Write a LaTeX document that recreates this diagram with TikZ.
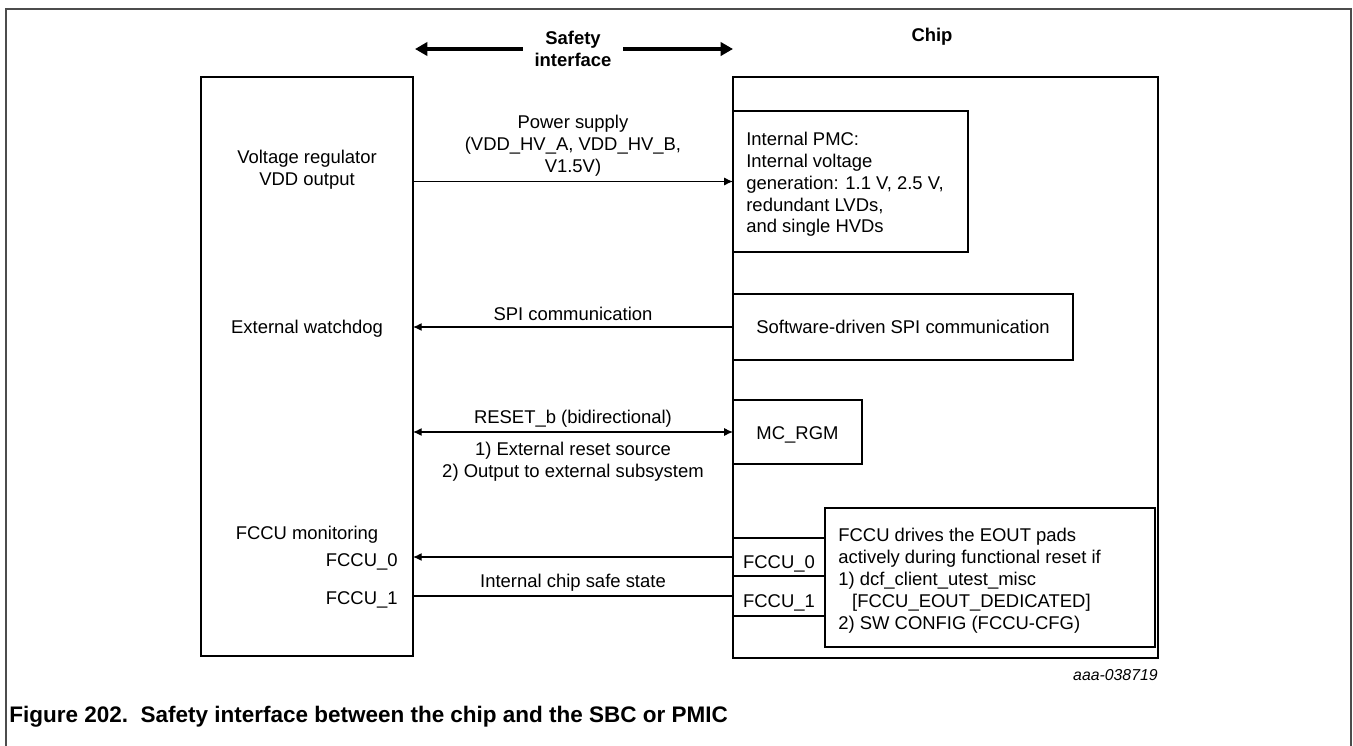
\documentclass[tikz,border=0pt]{standalone}
\usepackage{fontspec}
\setmainfont{Liberation Sans}
\usetikzlibrary{arrows.meta}

\begin{document}
\begin{tikzpicture}[x=0.02cm,y=-0.02cm,
        font=\fontsize{10.5}{12.5}\selectfont,
        box/.style={draw,line width=1.1pt,outer sep=0pt,inner sep=0pt,anchor=north west},
        pin/.style={box,text height=13pt,text depth=0pt},
        hdr/.style={font=\bfseries\fontsize{10.5}{12.5}\selectfont,align=center},
        sig/.style={line width=0.6pt,-{Latex[length=5pt,width=4.5pt]}},
        sigboth/.style={line width=0.6pt,{Latex[length=5pt,width=4.5pt]}-{Latex[length=5pt,width=4.5pt]}},
        wide/.style={line width=2.2pt,-{Triangle[length=7pt,width=7.5pt]}}]

        \useasboundingbox (0,0) rectangle (1353,745);

        %Frame
        \draw[black!70,line width=1.2pt] (6,760) -- (6,9) -- (1351,9) -- (1351,760);

        %Boxes
        %SBC / PMIC side
        \node[box,minimum width=4.24cm,minimum height=11.58cm] (sbc) at (201,77) {};
        %chip side
        \node[box,minimum width=8.5cm,minimum height=11.62cm] (chip) at (733,77) {};

        %Blocks inside the chip
        \node[box,minimum width=4.7cm,minimum height=2.82cm] (pmc) at (733,111) {};
        \node[box,minimum width=6.8cm,minimum height=1.32cm] (spi) at (733,294) {Software-driven SPI communication};
        \node[box,minimum width=2.58cm,minimum height=1.28cm,text height=9pt,text depth=0pt] (rgm) at (733,400) {MC\_RGM};
        \node[pin,minimum width=1.84cm,minimum height=0.76cm] (fccu0) at (733,538) {FCCU\_0};
        \node[pin,minimum width=1.84cm,minimum height=0.8cm] (fccu1) at (fccu0.south west) {FCCU\_1};
        \node[box,minimum width=6.6cm,minimum height=2.78cm] (eout) at (825,508) {};

        %block texts
        \node[anchor=west,align=left,inner sep=0pt] (pmctext) at ([xshift=0.26cm,yshift=-1.6pt]pmc.west)
            {Internal PMC:\\Internal voltage\\generation: 1.1 V, 2.5 V,\\redundant LVDs,\\and single HVDs};
        \node[anchor=west,align=left,inner sep=0pt] (eouttext) at ([xshift=0.26cm,yshift=-1.6pt]eout.west)
            {FCCU drives the EOUT pads\\actively during functional reset if\\1) dcf\_client\_utest\_misc\\\hspace*{0.75em}[FCCU\_EOUT\_DEDICATED]\\2) SW CONFIG (FCCU-CFG)};

        %Texts in the SBC box
        \node[align=center] (vreg) at (307,170) {Voltage regulator\\VDD output};
        \node (wdog) at (307,329) {External watchdog};
        \node (fmon) at (307,535) {FCCU monitoring};
        \node[anchor=east,inner sep=0pt] (out0) at (398,562) {FCCU\_0};
        \node[anchor=east,inner sep=0pt] (out1) at (398,600) {FCCU\_1};

        %Headers
        \node[hdr,inner xsep=6.5pt] (safety) at (573,49) {Safety\\interface};
        \node[hdr] (chiplbl) at (932,37) {Chip};
        \coordinate (safeL) at (415,49);
        \coordinate (safeR) at (733,49);
        \draw[wide] (safety) -- (safeL);
        \draw[wide] (safety) -- (safeR);

        %Edges
        \draw[sig] (sbc.east |- pmc.west) -- (pmc.west)
            node[midway,above=-0.5pt,align=center] {Power supply\\(VDD\_HV\_A, VDD\_HV\_B,\\V1.5V)};
        \draw[sig] (spi.west) -- (sbc.east |- spi.west)
            node[midway,above=0pt] {SPI communication};
        \draw[sigboth] (sbc.east |- rgm.west) -- (rgm.west)
            node[midway,above=-1pt] {RESET\_b (bidirectional)}
            node[midway,below=2pt,align=center] {1) External reset source\\2) Output to external subsystem};
        \draw[sig] (fccu0.west) -- (sbc.east |- fccu0.west);
        \draw[line width=0.6pt] (fccu1.west) -- (sbc.east |- fccu1.west)
            node[midway,above=-1pt] {Internal chip safe state};

        %Labels
        \node[anchor=east,font=\itshape\fontsize{9}{11}\selectfont,inner sep=0pt] (code) at (1158,675) {aaa-038719};
        \node[anchor=west,font=\bfseries\fontsize{12.8}{15}\selectfont,inner sep=0pt] (caption) at (9,717)
            {Figure 202.\ \ Safety interface between the chip and the SBC or PMIC};

\end{tikzpicture}
\end{document}
